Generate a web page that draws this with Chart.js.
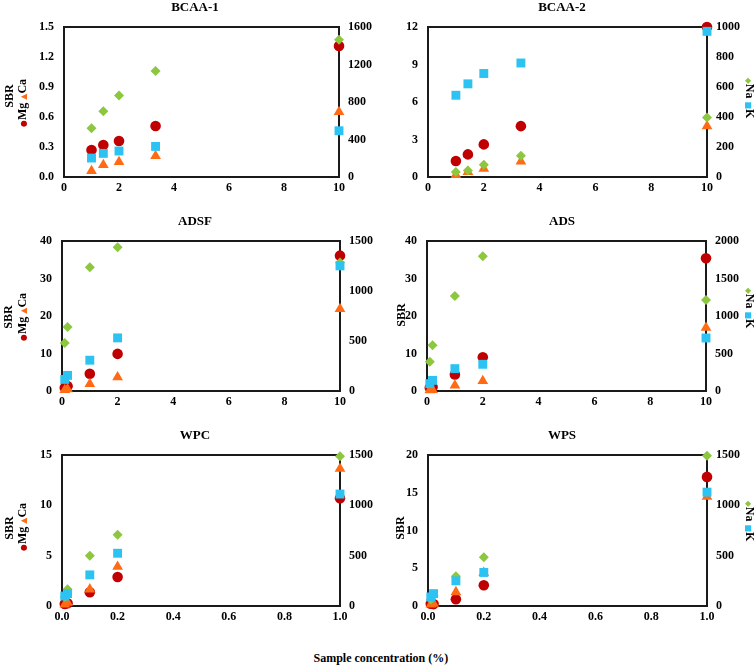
<!DOCTYPE html>
<html><head><meta charset="utf-8">
<script src="https://cdn.jsdelivr.net/npm/chart.js@4.4.1/dist/chart.umd.min.js"></script>
<style>
html,body{margin:0;padding:0;background:#fff;}
#wrap{position:relative;width:756px;height:665px;overflow:hidden;font-family:"Liberation Serif","Times New Roman",serif;font-weight:bold;color:#000;}
canvas{position:absolute;}
.lab{position:absolute;white-space:nowrap;font-size:12px;line-height:12px;}
.sym{font-family:"DejaVu Sans",sans-serif;font-size:8px;}
</style></head><body>
<div id="wrap"></div>
<script>
// ---- data ----
const panelTitles = ['BCAA-1', 'BCAA-2', 'ADSF', 'ADS', 'WPC', 'WPS'];
const xBCAA = [1, 1.43, 2, 3.33, 10];
const xADS = [0.1, 0.2, 1, 2, 10];
const xWP = [0.01, 0.02, 0.1, 0.2, 1];

const bcaa1Mg = [0.27, 0.32, 0.36, 0.51, 1.31];
const bcaa1Ca = [0.06, 0.12, 0.15, 0.21, 0.65];
const bcaa1Na = [521, 702, 869, 1132, 1465];
const bcaa1K  = [202, 252, 277, 326, 493];

const bcaa2Mg = [1.28, 1.81, 2.61, 4.07, 12.0];
const bcaa2Ca = [0.16, 0.40, 0.67, 1.25, 4.07];
const bcaa2Na = [33, 44, 82, 142, 397];
const bcaa2K  = [545, 621, 690, 760, 971];

const adsfMg = [0.9, 1.3, 4.6, 9.9, 36.1];
const adsfCa = [0.3, 0.5, 1.9, 3.7, 21.9];
const adsfNa = [481, 640, 1238, 1437, 1284];
const adsfK  = [116, 156, 308, 531, 1251];

const adsMg = [0.9, 1.1, 4.4, 9.0, 35.4];
const adsCa = [0.2, 0.3, 1.5, 2.7, 16.9];
const adsNa = [391, 609, 1267, 1796, 1213];
const adsK  = [98, 142, 298, 356, 707];

const wpcMg = [0.2, 0.27, 1.36, 2.88, 10.7];
const wpcCa = [0.15, 0.33, 1.66, 3.9, 13.64];
const wpcNa = [90, 166, 498, 707, 1487];
const wpcK  = [99, 123, 309, 524, 1112];

const wpsMg = [0.3, 0.25, 0.9, 2.75, 17.1];
const wpsCa = [0.2, 0.3, 1.85, 4.4, 14.5];
const wpsNa = [65, 105, 295, 485, 1493];
const wpsK  = [90, 123, 250, 333, 1131];

// axis ranges / tick steps
const leftMax   = [1.5, 12, 40, 40, 15, 20];
const leftStep  = [0.3, 3, 10, 10, 5, 5];
const leftDec   = [1, 0, 0, 0, 0, 0];
const rightMax  = [1600, 1000, 1500, 2000, 1500, 1500];
const rightStep = [400, 200, 500, 500, 500, 500];
const xMax      = [10, 10, 10, 10, 1, 1];
const xStep     = [2, 2, 2, 2, 0.2, 0.2];
const xDec      = [0, 0, 0, 0, 1, 1];

const xSets  = [xBCAA, xBCAA, xADS, xADS, xWP, xWP];
const mgSets = [bcaa1Mg, bcaa2Mg, adsfMg, adsMg, wpcMg, wpsMg];
const caSets = [bcaa1Ca, bcaa2Ca, adsfCa, adsCa, wpcCa, wpsCa];
const naSets = [bcaa1Na, bcaa2Na, adsfNa, adsNa, wpcNa, wpsNa];
const kSets  = [bcaa1K, bcaa2K, adsfK, adsK, wpcK, wpsK];

// ---- layout (styles) ----
const FONT = '"Liberation Serif", "Times New Roman", serif';
const layouts = [
  {cl:0,   cw:390, pl:64,  pr:339, pt:27,  pb:177},
  {cl:378, cw:368, pl:428, pr:707, pt:27,  pb:177},
  {cl:0,   cw:390, pl:62,  pr:340, pt:241, pb:391},
  {cl:378, cw:368, pl:427, pr:706, pt:241, pb:391},
  {cl:0,   cw:390, pl:62,  pr:340, pt:455, pb:606},
  {cl:378, cw:368, pl:428, pr:707, pt:455, pb:606}
];
const COLORS = {Mg:'#C00000', Ca:'#FF6A13', Na:'#8DC63F', K:'#2CC3F3'};

const framePlugin = {
  id: 'frame',
  beforeDatasetsDraw(chart) {
    const a = chart.chartArea, c = chart.ctx;
    c.save();
    c.strokeStyle = '#1a1a1a';
    c.lineWidth = 2;
    c.strokeRect(a.left, a.top, a.right - a.left, a.bottom - a.top);
    c.restore();
  }
};

const wrap = document.getElementById('wrap');

function pts(xs, ys) { return xs.map((x, j) => ({x: x, y: ys[j]})); }

for (let i = 0; i < 6; i++) {
  const L = layouts[i];
  const cv = document.createElement('canvas');
  const top = L.pt - 27;
  const h = L.pb - L.pt + 50;
  cv.width = L.cw; cv.height = h;
  cv.style.left = L.cl + 'px'; cv.style.top = top + 'px';
  cv.style.width = L.cw + 'px'; cv.style.height = h + 'px';
  wrap.appendChild(cv);
  const tickFont = {family: FONT, size: 12, weight: 'bold'};
  const xs = xSets[i];
  new Chart(cv.getContext('2d'), {
    type: 'scatter',
    data: {
      datasets: [
        {label:'Mg', data: pts(xs, mgSets[i]), yAxisID:'y', pointStyle:'circle', pointRadius:5.3, backgroundColor:COLORS.Mg, borderColor:COLORS.Mg, borderWidth:0, order:3, clip:false},
        {label:'Ca', data: pts(xs, caSets[i]), yAxisID:'y', pointStyle:'triangle', pointRadius:6.2, backgroundColor:COLORS.Ca, borderColor:COLORS.Ca, borderWidth:0, order:2, clip:false},
        {label:'Na', data: pts(xs, naSets[i]), yAxisID:'y1', pointStyle:'rectRot', pointRadius:5, backgroundColor:COLORS.Na, borderColor:COLORS.Na, borderWidth:0, order:1, clip:false},
        {label:'K', data: pts(xs, kSets[i]), yAxisID:'y1', pointStyle:'rect', pointRadius:6.3, backgroundColor:COLORS.K, borderColor:COLORS.K, borderWidth:0, order:0, clip:false}
      ]
    },
    options: {
      responsive: false,
      animation: false,
      events: [],
      layout: {padding: 0},
      plugins: {
        legend: {display: false},
        tooltip: {enabled: false},
        title: {display: true, text: panelTitles[i], color: '#000',
                font: {family: FONT, size: 13, weight: 'bold'},
                padding: {top: 0, bottom: 11.4}}
      },
      scales: {
        x: {type:'linear', position:'bottom', min:0, max:xMax[i],
            ticks:{stepSize:xStep[i], padding:4, color:'#000', font:tickFont, maxRotation:0, autoSkip:false,
                   callback: v => Number(v).toFixed(xDec[i])},
            grid:{display:false, drawTicks:false}, border:{display:false},
            afterFit: s => { s.height = 23; }},
        y: {type:'linear', position:'left', min:0, max:leftMax[i],
            ticks:{stepSize:leftStep[i], padding:10, color:'#000', font:tickFont,
                   callback: v => Number(v).toFixed(leftDec[i])},
            grid:{display:false, drawTicks:false}, border:{display:false},
            afterFit: s => { s.width = L.pl - L.cl; }},
        y1: {type:'linear', position:'right', min:0, max:rightMax[i],
            ticks:{stepSize:rightStep[i], padding:9, color:'#000', font:tickFont,
                   callback: v => String(Math.round(v))},
            grid:{display:false, drawTicks:false}, border:{display:false},
            afterFit: s => { s.width = L.cl + L.cw - L.pr; }}
      }
    },
    plugins: [framePlugin]
  });
}

// ---- side labels (HTML text) ----
function addLabel(html, cx, cy, deg) {
  const d = document.createElement('div');
  d.className = 'lab';
  d.innerHTML = html;
  wrap.appendChild(d);
  const w = d.offsetWidth, hh = d.offsetHeight;
  d.style.left = (cx - w / 2) + 'px';
  d.style.top = (cy - hh / 2) + 'px';
  d.style.transform = 'rotate(' + deg + 'deg)';
}
const mgCa = '<span class="sym" style="color:#C00000">●</span>Mg <span class="sym" style="color:#FF6A13">▲</span>Ca';
const naK = '<span class="sym" style="color:#8DC63F">◆</span>Na <span class="sym" style="color:#2CC3F3">■</span>K';
addLabel('SBR', 8, 96, -90);
addLabel(mgCa, 23, 103, -90);
addLabel(naK, 749, 98, 90);
addLabel('SBR', 7, 317, -90);
addLabel(mgCa, 23, 317, -90);
addLabel('SBR', 400, 315, -90);
addLabel(naK, 749, 308, 90);
addLabel('SBR', 8, 528, -90);
addLabel(mgCa, 23, 527, -90);
addLabel('SBR', 399, 528, -90);
addLabel(naK, 749, 521, 90);
addLabel('Sample concentration (%)', 381, 658, 0);
</script>
</body></html>
